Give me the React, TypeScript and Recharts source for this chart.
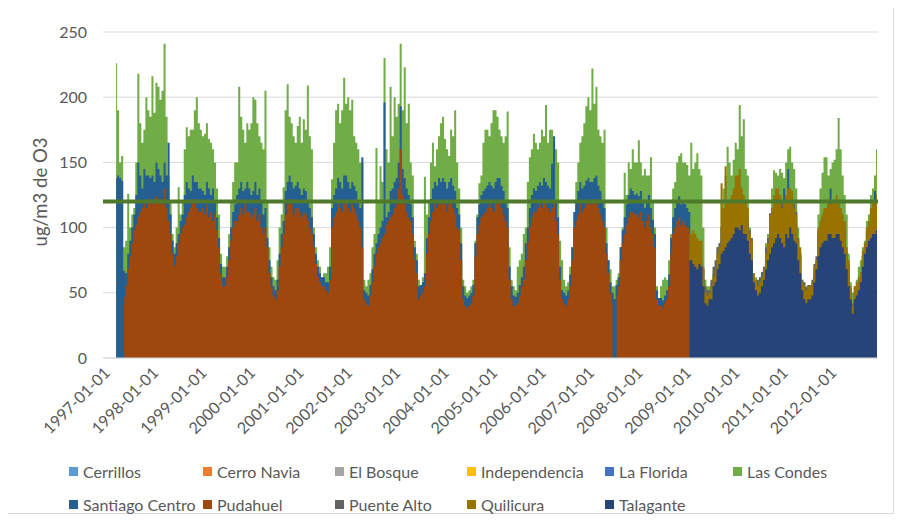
import React from 'react';
import { ComposedChart, Area, XAxis, YAxis, CartesianGrid, ReferenceLine } from 'recharts';

const N = null;
const PER_YEAR = 24; // half-month steps
const years = [1997, 1998, 1999, 2000, 2001, 2002, 2003, 2004, 2005, 2006, 2007, 2008, 2009, 2010, 2011, 2012];
const tickLabels = years.map((y) => `${y}-01-01`);
const yTicks = [0, 50, 100, 150, 200, 250];
const limitValue = 120;

const pudahuel = [
  N,N,N,N,N,N, N,N,N,N, 47,55, 68,78, 88,98, 102,108, 112,115, 118,115, 120,122, // 1997
  118,122, 124,120, 122,118, 130,115, 105,95, 80,70, 78,88, 95,100, 102,108, 112,115, 120,122, 115,112, // 1998
  112,115, 110,118, 108,112, 105,110, 98,85, 65,55, 55,62, 75,90, 100,105, 105,110, 115,110, 118,112, // 1999
  112,108, 110,115, 105,110, 100,95, 100,85, 65,55, 48,45, 52,70, 85,95, 110,118, 122,118, 110,115, // 2000
  115,112, 108,112, 110,105, 100,95, 85,72, 62,58, 55,55, 52,50, 60,100, 108,112, 118,115, 112,118, // 2001
  120,115, 112,118, 115,110, 105,100, 85,45, 42,40, 48,58, 70,80, 85,88, 92,95, 102,105, 108,110, // 2002
  115,118, 130,160, 125,118, 112,108, 105,95, 75,65, 45,48, 50,55, 80,95, 105,112, 118,115, 120,118, // 2003
  120,118, 112,118, 120,115, 110,100, 98,75, 45,40, 38,40, 42,48, 78,95, 102,108, 110,112, 115,118, // 2004
  115,112, 118,120, 120,115, 110,105, 100,60, 45,40, 40,42, 48,55, 60,75, 88,100, 108,112, 112,115, // 2005
  118,115, 120,118, 115,112, 115,120, 105,95, 60,45, 42,40, 45,55, 75,100, 105,110, 118,112, 115,118, // 2006
  120,118, 118,120, 122,115, 110,105, 100,80, 65,50, 42,N, 48,55, 75,88, 95,102, 108,112, 112,110, // 2007
  110,108, 112,105, 100,105, 110,100, 95,85, 45,40, 40,38, 42,45, 55,80, 95,100, 105,108, 102,105, // 2008
  102,100, 100,N, N,N, N,N, N,N, N,N, N,N, N,N, N,N, N,N, N,N, N,N, // 2009
];

const santiagoCentro = [
  N,N,N,N,N,N, 138,140, 138,136, 67,65, 80,90, 100,110, 125,150, 140,130, 145,140, 140,138, // 1997
  140,135, 150,145, 140,135, 150,140, 165,110, 90,80, 88,95, 105,110, 125,135, 130,128, 140,135, 135,130, // 1998
  130,128, 125,135, 130,125, 130,120, 108,92, 72,62, 62,70, 85,100, 112,118, 125,130, 135,128, 130,135, // 1999
  130,125, 128,135, 125,130, 120,110, 115,92, 75,62, 55,52, 60,80, 95,105, 128,135, 140,135, 130,132, // 2000
  135,130, 125,130, 128,120, 115,108, 95,80, 70,65, 62,62, 58,58, 70,115, 125,130, 138,135, 130,140, // 2001
  140,135, 130,135, 132,128, 120,115, 154,52, 50,48, 56,68, 80,88, 95,100, 105,196, 108,112, 128,130, // 2002
  135,138, 150,193, 145,138, 130,125, 118,108, 85,75, 55,56, 58,65, 92,108, 122,130, 135,132, 138,135, // 2003
  138,135, 130,135, 138,132, 128,115, 110,88, 55,48, 46,48, 50,56, 88,108, 118,125, 128,130, 132,135, // 2004
  132,130, 135,138, 138,132, 128,120, 115,70, 55,48, 47,50, 56,62, 70,88, 100,115, 125,130, 128,132, // 2005
  135,132, 138,135, 132,130, 149,170, 120,108, 70,52, 50,48, 52,64, 85,112, 120,128, 135,130, 132,136, // 2006
  138,135, 135,138, 140,132, 128,120, 115,88, 75,58, 50,45, 56,62, 85,98, 108,118, 125,130, 128,125, // 2007
  126,124, 128,120, 115,120, 125,115, 106,95, 52,46, 46,44, 48,52, 64,92, 108,115, 120,124, 118,120, // 2008
  118,115, 112,85, 88,86, 85,82, 72,60, 46,44, 46,50, 58,62, 72,78, 100,110, 112,110, 112,118, // 2009
  120,128, 130,132, 120,118, 110,105, 88,82, 60,55, 52,54, 58,64, 76,84, 100,108, 118,122, 122,118, // 2010
  110,130, 120,145, 122,120, 108,104, 84,78, 54,50, 48,50, 52,55, 65,70, 95,100, 106,112, 112,118, // 2011
  130,118, 115,118, 112,110, 102,98, 80,70, 50,38, 50,54, 58,62, 78,84, 96,100, 110,118, 128,120, // 2012
];

const lasCondes = [
  N,N,N,N,N,N, 226,190, 150,155, 85,90, 126,100, 110,115, 150,218, 180,165, 175,200, 190,185, // 1997
  216,188, 211,208, 198,205, 241,185, 140,120, 95,85, 100,131, 110,120, 160,177, 170,175, 175,190, 200,180, // 1998
  175,170, 172,180, 168,165, 160,150, 130,110, 80,70, 70,78, 95,120, 135,150, 150,208, 185,175, 165,180, // 1999
  175,180, 200,198, 180,170, 165,160, 205,120, 85,70, 62,60, 75,100, 110,131, 190,210, 185,180, 170,165, // 2000
  178,185, 165,183, 175,209, 170,160, 100,85, 75,70, 62,65, 65,70, 85,137, 165,190, 195,180, 190,215, // 2001
  195,200, 190,198, 170,165, 160,150, 150,60, 55,60, 65,85, 95,161, 120,147, 135,230, 160,150, 208,170, // 2002
  200,185, 195,241, 190,223, 180,195, 150,140, 90,80, 60,55, 62,139, 110,120, 150,165, 147,160, 170,180, // 2003
  185,168, 160,155, 175,170, 190,150, 130,100, 60,55, 50,52, 55,60, 90,110, 134,140, 165,175, 175,170, // 2004
  180,190, 190,185, 175,170, 165,170, 189,85, 60,55, 52,70, 75,80, 95,100, 135,154, 160,172, 165,160, // 2005
  165,175, 170,194, 165,175, 175,165, 160,150, 90,75, 60,55, 58,70, 85,100, 135,150, 165,170, 180,193, // 2006
  200,190, 222,195, 208,175, 170,165, 175,100, 75,68, 55,55, 60,65, 85,100, 142,125, 150,145, 160,150, // 2007
  150,167, 150,140, 145,140, 140,154, 120,100, 55,45, 55,60, 62,60, 75,95, 130,135, 150,155, 157,150, // 2008
  150,148, 140,165, 145,150, 157,145, 140,100, 60,55, 55,58, 65,70, 85,88, 120,130, 140,162, 150,140, // 2009
  152,165, 160,194, 170,183, 145,140, 100,90, 65,62, 58,60, 65,70, 88,95, 110,130, 144,142, 140,145, // 2010
  142,138, 150,160, 162,150, 145,130, 100,80, 60,58, 55,55, 50,55, 65,75, 110,130, 142,154, 154,140, // 2011
  145,150, 152,160, 184,160, 140,125, 110,80, 58,50, 55,60, 70,75, 85,90, 105,110, 125,130, 140,160, // 2012
];

const before2009 = 12 * PER_YEAR;

const puenteAlto = [
  ...Array(before2009).fill(N),
  N,N, 80,80, 85,82, 80,85, 75,68, 55,52, 52,60, 70,75, 85,88, 100,110, 115,112, 110,115, // 2009
  120,125, 130,128, 120,118, 112,108, 98,92, 62,58, 60,62, 66,70, 85,92, 111,108, 118,122, 120,118, // 2010
  120,118, 118,122, 125,122, 118,112, 92,80, 60,58, 54,56, 56,60, 72,78, 98,100, 108,110, 112,118, // 2011
  115,118, 118,122, 118,112, 105,100, 82,72, 52,42, 52,55, 58,62, 78,85, 98,100, 110,112, 115,118, // 2012
];

const quilicura = [
  ...Array(before2009).fill(N),
  N,N, 95,95, 98,95, 92,90, 90,70, 50,48, 50,55, 62,68, 80,85, 134,115, 147,120, 120,125, // 2009
  130,140, 140,145, 130,125, 120,115, 95,90, 65,60, 55,58, 62,68, 80,88, 110,115, 125,130, 130,125, // 2010
  115,120, 125,130, 130,128, 115,110, 90,85, 58,55, 52,55, 55,58, 70,75, 100,105, 110,115, 115,120, // 2011
  118,120, 120,125, 120,115, 110,105, 85,75, 55,40, 55,58, 62,66, 82,88, 100,105, 115,120, 120,125, // 2012
];

const talagante = [
  ...Array(before2009).fill(N),
  N,N, 75,75, 72,70, 68,72, 70,55, 42,40, 45,45, 55,58, 68,72, 80,82, 85,88, 90,92, // 2009
  95,100, 100,98, 102,95, 95,90, 80,75, 58,52, 48,50, 55,60, 68,75, 80,85, 88,92, 95,92, // 2010
  88,85, 95,92, 100,95, 90,88, 75,65, 52,45, 42,45, 45,48, 58,68, 78,85, 88,90, 90,95, // 2011
  95,92, 92,95, 95,90, 85,80, 68,55, 45,34, 45,48, 52,58, 70,80, 85,90, 92,95, 95,98, // 2012
];

// stations whose values are hidden behind the others in the picture
const cerrillos: (number | null)[] = [];
const cerroNavia: (number | null)[] = [];
const elBosque: (number | null)[] = [];
const independencia: (number | null)[] = [];
const laFlorida: (number | null)[] = [];

const series = [
  { key: 'cerrillos', name: 'Cerrillos', color: '#5B9BD5', values: cerrillos },
  { key: 'cerroNavia', name: 'Cerro Navia', color: '#ED7D31', values: cerroNavia },
  { key: 'elBosque', name: 'El Bosque', color: '#A5A5A5', values: elBosque },
  { key: 'independencia', name: 'Independencia', color: '#FFC000', values: independencia },
  { key: 'laFlorida', name: 'La Florida', color: '#4472C4', values: laFlorida },
  { key: 'lasCondes', name: 'Las Condes', color: '#70AD47', values: lasCondes },
  { key: 'santiagoCentro', name: 'Santiago Centro', color: '#255E91', values: santiagoCentro },
  { key: 'pudahuel', name: 'Pudahuel', color: '#9E480E', values: pudahuel },
  { key: 'puenteAlto', name: 'Puente Alto', color: '#636363', values: puenteAlto },
  { key: 'quilicura', name: 'Quilicura', color: '#997300', values: quilicura },
  { key: 'talagante', name: 'Talagante', color: '#264478', values: talagante },
];

const TOTAL = years.length * PER_YEAR;
const rows = Array.from({ length: TOTAL }, (_, i) => {
  const row: Record<string, number | null> = { t: i + 0.5 };
  series.forEach((s) => {
    const v = s.values[i];
    row[s.key] = v === undefined ? null : v;
  });
  return row;
});

const xTicks = years.map((_, i) => i * PER_YEAR);
const FONT = "Lato, 'Open Sans', sans-serif";
const TEXT = '#595959';

// legend grid: two rows, six columns
const legendCols = [61, 195, 327, 459, 597, 725];
const legendRows = [463, 496];

export default function App() {
  return (
    <div style={{ position: 'relative', width: 886, height: 506, fontFamily: FONT }}>
      <div
        style={{
          position: 'absolute', left: -1, top: -8, width: 887, height: 514,
          borderLeft: '1px solid #d9d9d9', borderRight: '1px solid #d9d9d9', borderBottom: '1px solid #d9d9d9',
          boxSizing: 'border-box',
        }}
      />
      <div style={{ position: 'absolute', left: 0, top: 0 }}>
        <ComposedChart
          width={880}
          height={440}
          data={rows}
          margin={{ top: 24, right: 10, left: 0, bottom: 0 }}
        >
          <CartesianGrid vertical={false} stroke="#d9d9d9" />
          <XAxis
            dataKey="t"
            type="number"
            domain={[0, TOTAL]}
            ticks={xTicks}
            interval={0}
            tickFormatter={(v: number) => tickLabels[Math.round(v / PER_YEAR)] ?? ''}
            angle={-45}
            textAnchor="end"
            height={90}
            tickLine={false}
            axisLine={{ stroke: '#d9d9d9' }}
            tick={{ fill: TEXT, fontSize: 16, fontFamily: FONT }}
          />
          <YAxis
            type="number"
            domain={[0, 250]}
            ticks={yTicks}
            width={95}
            tickLine={false}
            axisLine={false}
            tickMargin={10}
            tick={{ fill: TEXT, fontSize: 16, fontFamily: FONT }}
          />
          {series.map((s) => (
            <Area
              key={s.key}
              dataKey={s.key}
              name={s.name}
              type="step"
              stroke="none"
              fill={s.color}
              fillOpacity={1}
              isAnimationActive={false}
              dot={false}
              activeDot={false}
              connectNulls={false}
            />
          ))}
          <ReferenceLine y={limitValue} stroke="#4F7A2C" strokeWidth={4} />
        </ComposedChart>
      </div>
      <div
        style={{
          position: 'absolute', left: 32, top: 184, transform: 'translate(-50%, -50%) rotate(-90deg)',
          whiteSpace: 'nowrap', fontSize: 18.5, color: TEXT,
        }}
      >
        ug/m3 de O3
      </div>
      {series.map((s, i) => {
        const col = i < 6 ? i : i - 6;
        const row = i < 6 ? 0 : 1;
        return (
          <div
            key={s.key}
            style={{
              position: 'absolute', left: legendCols[col], top: legendRows[row] - 10,
              height: 20, display: 'flex', alignItems: 'center', whiteSpace: 'nowrap',
              fontSize: 16, color: TEXT,
            }}
          >
            <span style={{ display: 'inline-block', width: 9, height: 9, background: s.color, marginRight: 5 }} />
            {s.name}
          </div>
        );
      })}
    </div>
  );
}
